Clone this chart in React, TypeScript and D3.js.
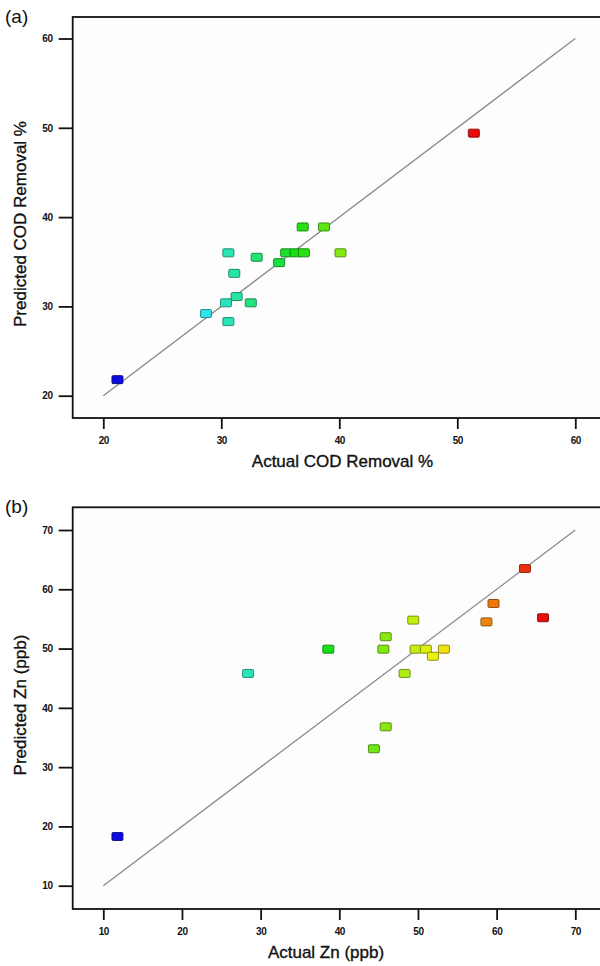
// Actual vs predicted scatter plots (COD removal, Zn) — Design-Expert style
import { useEffect, useRef } from 'react';
import * as d3 from 'd3';

// ── Data ────────────────────────────────
const COD_ACTUAL = [21.2, 28.7, 30.6, 30.4, 31.3, 32.5, 31.1, 30.6, 33.0, 34.9, 35.5, 36.3, 37.0, 40.1, 36.9, 38.7, 51.4];
const COD_PREDICTED = [21.8, 29.2, 28.3, 30.4, 31.1, 30.4, 33.7, 36.0, 35.5, 34.9, 36.0, 36.0, 36.0, 36.0, 38.9, 38.9, 49.4];
const COD_TICKS = [20, 30, 40, 50, 60];

const ZN_ACTUAL = [11.8, 28.4, 38.6, 44.4, 45.6, 45.9, 45.9, 48.3, 49.4, 49.7, 51.0, 51.9, 53.3, 58.7, 59.6, 63.6, 65.9];
const ZN_PREDICTED = [18.3, 45.8, 49.9, 33.1, 49.9, 52.0, 36.8, 45.8, 54.8, 49.9, 49.9, 48.7, 49.9, 54.5, 57.6, 63.5, 55.2];
const ZN_TICKS = [10, 20, 30, 40, 50, 60, 70];

// rainbow used to colour points by actual value
const RAINBOW = ['#0c0ce0', '#30e6ea', '#14e014', '#f2f20e', '#e80c0c'];

const FONT = 'Arial, "Liberation Sans", sans-serif';

type PanelCfg = {
  tag: string;
  xTitle: string;
  yTitle: string;
  actual: number[];
  predicted: number[];
  ticks: number[];
  top: number;       // frame top
  bottom: number;    // frame bottom
  plotTop: number;   // y of last tick
  plotBottom: number;
  xTitleX: number;
  yTitleY: number;
};

const PANELS: PanelCfg[] = [
  {
    tag: '(a)', xTitle: 'Actual COD Removal %', yTitle: 'Predicted COD Removal %',
    actual: COD_ACTUAL, predicted: COD_PREDICTED, ticks: COD_TICKS,
    top: 17, bottom: 418, plotTop: 38.5, plotBottom: 395.7, xTitleX: 342.5, yTitleY: 224,
  },
  {
    tag: '(b)', xTitle: 'Actual Zn (ppb)', yTitle: 'Predicted Zn (ppb)',
    actual: ZN_ACTUAL, predicted: ZN_PREDICTED, ticks: ZN_TICKS,
    top: 507.3, bottom: 909, plotTop: 530, plotBottom: 885.7, xTitleX: 326, yTitleY: 705,
  },
];

const FRAME_L = 72.7;
const FRAME_R = 613;
const X0 = 103.3;
const X1 = 575.3;

export default function App() {
  const svgRef = useRef<SVGSVGElement>(null);

  useEffect(() => {
    const svg = d3.select(svgRef.current);
    svg.selectAll('*').remove();

    PANELS.forEach(p => {
      const lo = p.ticks[0];
      const hi = p.ticks[p.ticks.length - 1];
      const x = d3.scaleLinear().domain([lo, hi]).range([X0, X1]);
      const y = d3.scaleLinear().domain([lo, hi]).range([p.plotBottom, p.plotTop]);

      const ext = d3.extent(p.actual) as [number, number];
      const color = d3.scaleLinear<string>()
        .domain(d3.range(5).map(i => ext[0] + (ext[1] - ext[0]) * i / 4))
        .range(RAINBOW)
        .interpolate(d3.interpolateRgb);

      const g = svg.append('g');

      // frame
      g.append('rect')
        .attr('x', FRAME_L).attr('y', p.top)
        .attr('width', FRAME_R - FRAME_L).attr('height', p.bottom - p.top)
        .attr('fill', '#fdfdfd').attr('stroke', '#111').attr('stroke-width', 1.8);

      // axes
      const yAxis = g.append('g')
        .attr('transform', `translate(${FRAME_L},0)`)
        .call(d3.axisLeft(y).tickValues(p.ticks).tickSize(14).tickPadding(6).tickFormat(d3.format('d')));
      const xAxis = g.append('g')
        .attr('transform', `translate(0,${p.bottom})`)
        .call(d3.axisBottom(x).tickValues(p.ticks).tickSize(11).tickPadding(8).tickFormat(d3.format('d')));
      [yAxis, xAxis].forEach(a => {
        a.select('.domain').remove();
        a.selectAll('line').attr('stroke', '#111').attr('stroke-width', 1.8);
        a.selectAll('text')
          .attr('fill', '#111').attr('font-size', 10).attr('font-weight', 700)
          .attr('letter-spacing', -0.4)
          .attr('font-family', FONT);
      });

      // identity line
      g.append('line')
        .attr('x1', x(lo)).attr('y1', y(lo))
        .attr('x2', x(hi)).attr('y2', y(hi))
        .attr('stroke', '#8a8a8a').attr('stroke-width', 1.3);

      // points
      g.selectAll('rect.pt')
        .data(p.actual.map((a, i) => ({ a, pr: p.predicted[i] })))
        .join('rect')
        .attr('class', 'pt')
        .attr('x', d => x(d.a) - 5.5)
        .attr('y', d => y(d.pr) - 4)
        .attr('width', 11).attr('height', 8).attr('rx', 1.2)
        .attr('fill', d => color(d.a))
        .attr('stroke', d => d3.rgb(color(d.a)).darker(1.6).formatHex())
        .attr('stroke-width', 0.9);

      // titles
      g.append('text')
        .attr('x', p.xTitleX).attr('y', p.bottom + 49)
        .attr('text-anchor', 'middle')
        .attr('font-size', 17).attr('font-family', FONT).attr('fill', '#111')
        .attr('stroke', '#111').attr('stroke-width', 0.35)
        .text(p.xTitle);

      g.append('text')
        .attr('transform', `translate(26,${p.yTitleY}) rotate(-90)`)
        .attr('text-anchor', 'middle')
        .attr('font-size', 17).attr('font-family', FONT).attr('fill', '#111')
        .attr('stroke', '#111').attr('stroke-width', 0.35)
        .text(p.yTitle);

      g.append('text')
        .attr('x', 5).attr('y', p.top + 6)
        .attr('font-size', 19).attr('font-family', FONT).attr('fill', '#111')
        .text(p.tag);
    });
  }, []);

  return (
    <svg
      ref={svgRef}
      width={600}
      height={966}
      style={{ position: 'absolute', left: 0, top: 0, background: '#fff', display: 'block' }}
    />
  );
}
